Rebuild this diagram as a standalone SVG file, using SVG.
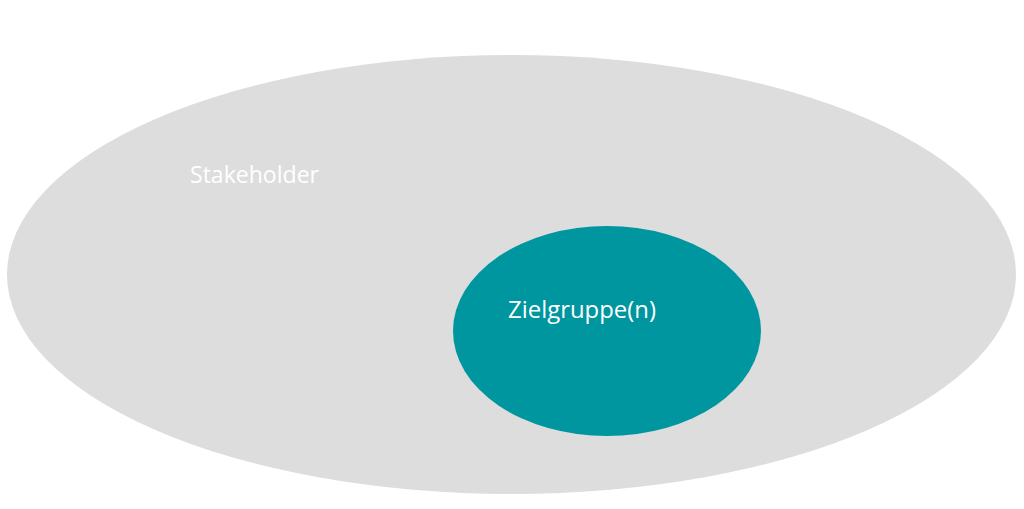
<svg xmlns="http://www.w3.org/2000/svg" width="1024" height="509" viewBox="0 0 1024 509">
<style>
.lbl{font-family:"Open Sans","Liberation Sans",sans-serif;font-size:23.5px;fill:#ffffff;}
</style>
<rect width="1024" height="509" fill="#ffffff"/>
<g id="stakeholder">
<ellipse cx="511.5" cy="274.5" rx="504.5" ry="219.5" fill="#dddddd"/>
<text class="lbl" x="190" y="183" textLength="129" lengthAdjust="spacingAndGlyphs">Stakeholder</text>
</g>
<g id="zielgruppe">
<ellipse cx="607" cy="331" rx="154" ry="105" fill="#00969f"/>
<text class="lbl" x="508" y="318" textLength="148" lengthAdjust="spacingAndGlyphs">Zielgruppe(n)</text>
</g>
<g id="connectors"/>
</svg>
